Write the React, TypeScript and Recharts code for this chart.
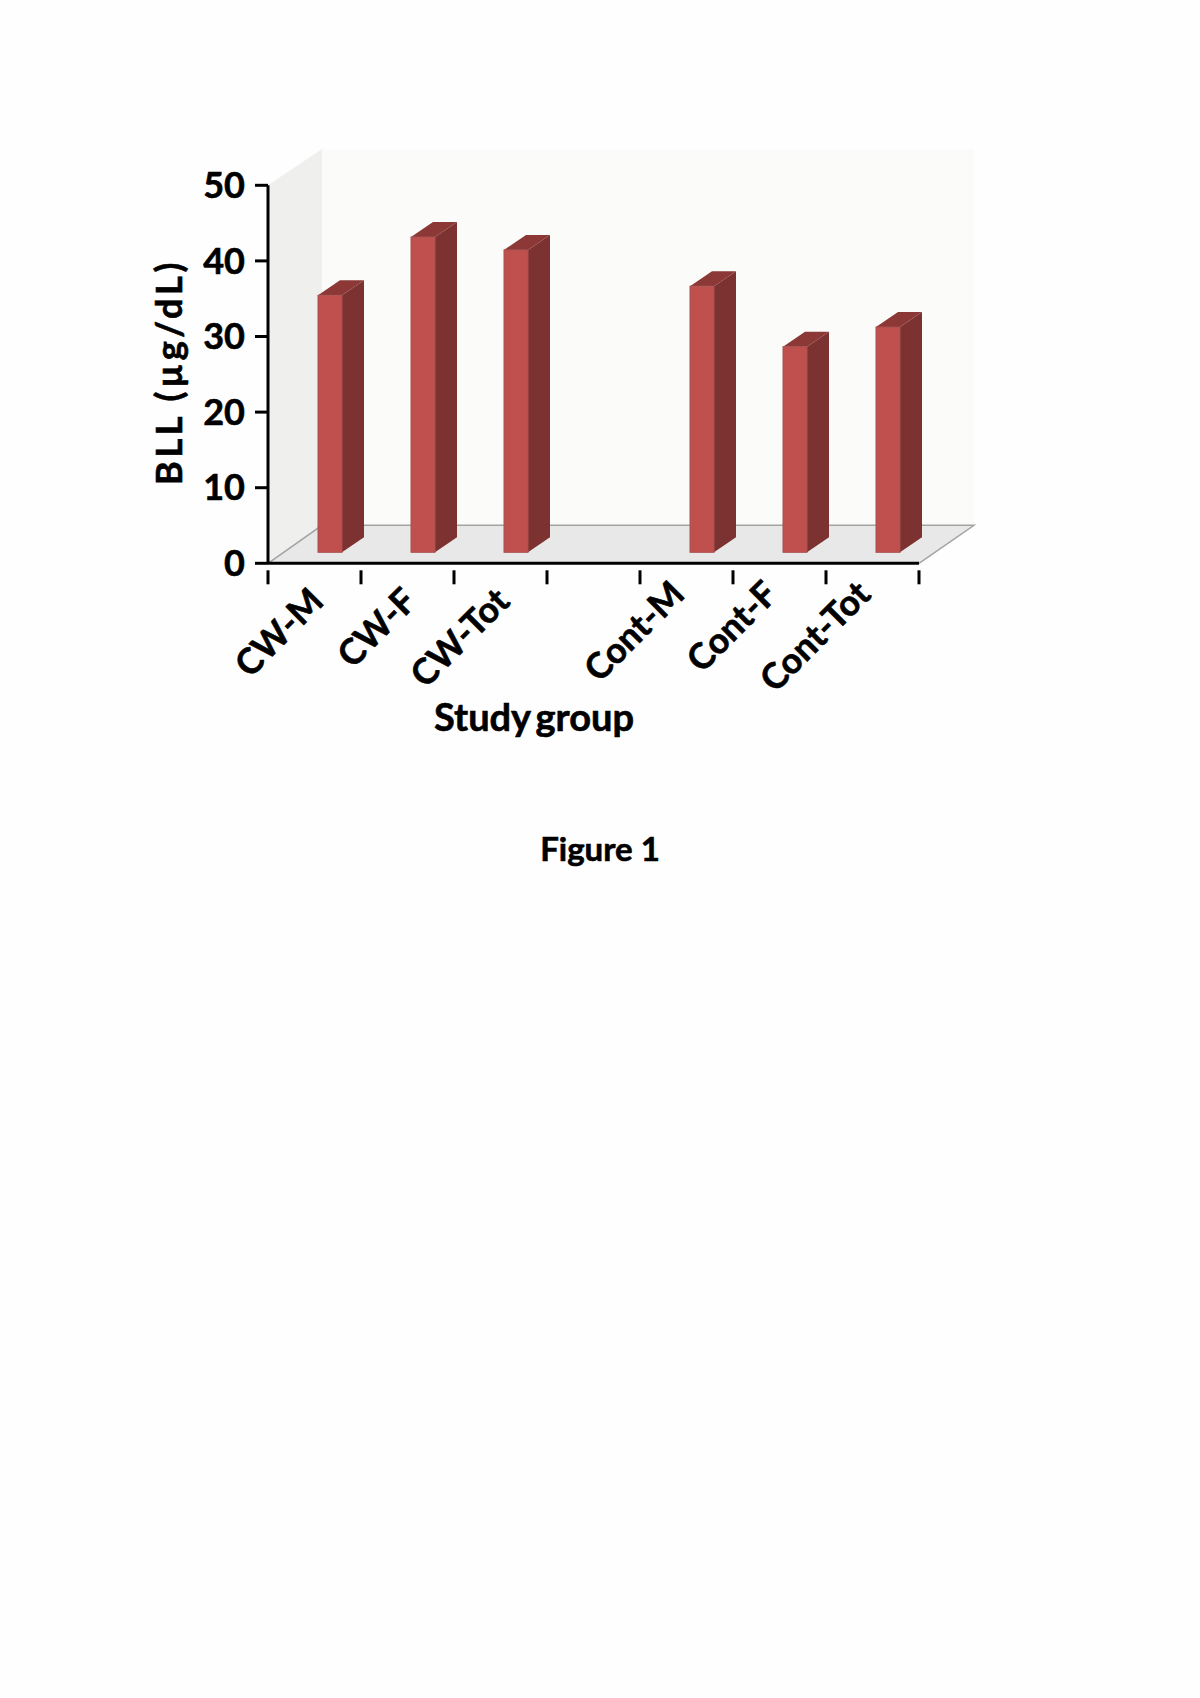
import { Bar, BarChart, Customized, XAxis, YAxis } from "recharts";

// Blank fourth slot separates the CW and Cont groups
const GROUPS = ["CW-M", "CW-F", "CW-Tot", "", "Cont-M", "Cont-F", "Cont-Tot"];
const BLL = [34, 41.7, 40, null, 35.2, 27.2, 29.8];
const Y_TICKS = [0, 10, 20, 30, 40, 50];

const rows = GROUPS.map((name, i) => ({ name, value: BLL[i] }));

const FONT = "Lato, Carlito, sans-serif";
const PAGE = "#fefefe";

const LEFT = 268;
const RIGHT = 919;
const TOP = 185.3;
const BOTTOM = 563.3;
const BAND = (RIGHT - LEFT) / GROUPS.length;

// Box offset of the fake 3D room
const WALL_DX = 54;
const WALL_DY = 38;
const WALL_TOP = 149;

// Bars stand part way into the room
const BAR_SHIFT_X = 15;
const BAR_SHIFT_Y = -11;
const BAR_DX = 22;
const BAR_DY = 15;

// Thin outline so the glyphs are as heavy as the scanned original
const heavy = { fill: "#000", stroke: "#000", strokeWidth: 0.6, fontFamily: FONT, fontWeight: 700 };

function Room() {
  const bx = LEFT + WALL_DX;
  const by = BOTTOM - WALL_DY;
  const rx = RIGHT + WALL_DX + 1;
  return (
    <g>
      <polygon points={`${bx},${WALL_TOP} ${rx},${WALL_TOP} ${rx},${by} ${bx},${by}`} fill="#fbfbf9" />
      <polygon points={`${LEFT},${TOP} ${bx},${WALL_TOP} ${bx},${by} ${LEFT},${BOTTOM}`} fill="#efefee" />
      <polygon points={`${LEFT},${BOTTOM} ${bx},${by} ${rx},${by} ${RIGHT},${BOTTOM}`} fill="#e9e8e8" />
      <polyline
        points={`${LEFT},${BOTTOM} ${bx},${by} ${rx},${by} ${RIGHT},${BOTTOM}`}
        fill="none"
        stroke="#a3a3a3"
        strokeWidth={1.5}
      />
    </g>
  );
}

function Bar3D({ x, y, width, height }: any) {
  if (!height) return null;
  const l = x + BAR_SHIFT_X;
  const r = l + width;
  const t = y + BAR_SHIFT_Y;
  const b = y + height + BAR_SHIFT_Y;
  return (
    <g>
      <polygon
        points={`${r},${b} ${r + BAR_DX},${b - BAR_DY} ${r + BAR_DX},${t - BAR_DY} ${r},${t}`}
        fill="#7c3230"
      />
      <polygon
        points={`${l},${t} ${l + BAR_DX},${t - BAR_DY} ${r + BAR_DX},${t - BAR_DY} ${r},${t}`}
        fill="#8b3836"
      />
      <rect x={l} y={t} width={width} height={b - t} fill="#c0504d" stroke="#a8514f" strokeWidth={1} />
    </g>
  );
}

function GroupTick({ x, y, index, payload }: any) {
  const left = x - BAND / 2;
  // The Cont labels sit closer to the axis in the original
  const tx = index > 3 ? x : x + 11;
  const ty = index > 3 ? y + 25 : y + 32;
  return (
    <g>
      <line x1={left} x2={left} y1={y - 1} y2={y + 13} stroke="#000" strokeWidth={3} />
      {index === GROUPS.length - 1 && (
        <line x1={left + BAND} x2={left + BAND} y1={y - 1} y2={y + 13} stroke="#000" strokeWidth={3} />
      )}
      <text x={tx} y={ty} transform={`rotate(-45 ${tx} ${ty})`} textAnchor="end" fontSize={35.5} {...heavy}>
        {payload.value}
      </text>
    </g>
  );
}

export default function App() {
  return (
    <div style={{ position: "absolute", left: 0, top: 0, width: 1200, height: 1698, background: PAGE }}>
      <BarChart
        width={1200}
        height={1698}
        data={rows}
        margin={{ top: TOP, left: LEFT - 60, right: 1200 - RIGHT, bottom: 1698 - BOTTOM - 60 }}
        barSize={24}
      >
        <Customized component={Room} />
        <XAxis
          dataKey="name"
          height={60}
          interval={0}
          axisLine={{ stroke: "#000", strokeWidth: 3 }}
          tickLine={false}
          tick={<GroupTick />}
        />
        <YAxis
          width={60}
          domain={[0, 50]}
          ticks={Y_TICKS}
          axisLine={{ stroke: "#000", strokeWidth: 3 }}
          tickLine={{ stroke: "#000", strokeWidth: 3 }}
          tickSize={13}
          tickMargin={10}
          tick={{ ...heavy, fontSize: 36 }}
        />
        <Bar dataKey="value" isAnimationActive={false} shape={<Bar3D />} />
        <text
          x={173}
          y={372}
          transform="rotate(-90 173 372)"
          textAnchor="middle"
          dominantBaseline="middle"
          fontSize={36}
          letterSpacing={3.7}
          {...heavy}
        >
          BLL (µg/dL)
        </text>
        <text x={534} y={731} textAnchor="middle" fontSize={38} wordSpacing={-4} {...heavy}>
          Study group
        </text>
        <text x={600} y={861} textAnchor="middle" fontSize={33} {...heavy}>
          Figure 1
        </text>
      </BarChart>
    </div>
  );
}
